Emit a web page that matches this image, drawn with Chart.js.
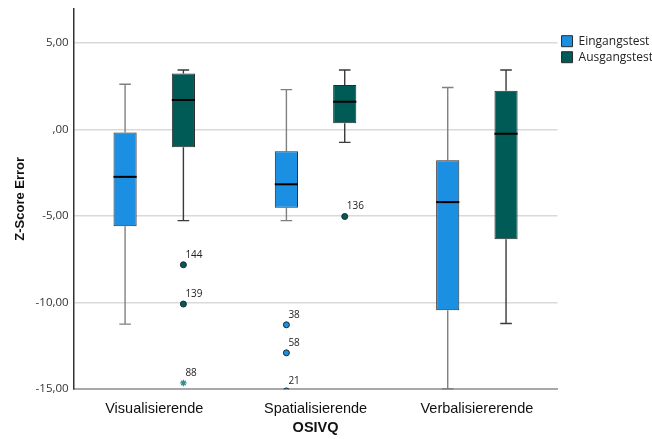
<!DOCTYPE html>
<html>
<head>
<meta charset="utf-8">
<script src="https://cdn.jsdelivr.net/npm/chart.js@4/dist/chart.umd.min.js"></script>
<style>
  html, body { margin: 0; padding: 0; background: #fff; }
  #wrap { width: 652px; height: 439px; }
</style>
</head>
<body>
<div id="wrap"><canvas id="myChart"></canvas></div>
<script>
const categories = ['Visualisierende', 'Spatialisierende', 'Verbalisiererende'];
const seriesNames = ['Eingangstest', 'Ausgangstest'];
const yTicks = [-15, -10, -5, 0, 5];

// box plot summary per category (min, q1, median, q3, max)
const einMin    = [-11.24, -5.26, -14.97];
const einQ1     = [-5.58, -4.52, -10.44];
const einMedian = [-2.73, -3.16, -4.19];
const einQ3     = [-0.17, -1.25, -1.77];
const einMax    = [2.62, 2.31, 2.43];

const ausMin    = [-5.26, -0.74, -11.2];
const ausQ1     = [-1.02, 0.36, -6.34];
const ausMedian = [1.71, 1.61, -0.24];
const ausQ3     = [3.24, 2.57, 2.24];
const ausMax    = [3.44, 3.44, 3.44];

// outliers
const outCategory = [0, 0, 0, 1, 1, 1, 1];
const outSeries   = [1, 1, 1, 0, 0, 0, 1];
const outValues   = [-7.81, -10.08, -14.64, -11.28, -12.9, -15.1, -5.02];
const outLabels   = ['144', '139', '88', '38', '58', '21', '136'];
const outExtreme  = [false, false, true, false, false, false, false];

const colors = ['#1b8fe2', '#005b57'];
const stats = [
    {min: einMin, med: einMedian, max: einMax, q1: einQ1, q3: einQ3, whisker: '#808080'},
    {min: ausMin, med: ausMedian, max: ausMax, q1: ausQ1, q3: ausQ3, whisker: '#3a3a3a'},
];

const boxExtras = {
    id: 'boxExtras',
    beforeDatasetsDraw(chart) {
        const ctx = chart.ctx;
        const y = chart.scales.y;
        ctx.save();
        stats.forEach((s, d) => {
            chart.getDatasetMeta(d).data.forEach((el, i) => {
                const cap = el.width * 0.5;
                ctx.strokeStyle = s.whisker;
                ctx.lineWidth = 1.4;
                ctx.beginPath();
                ctx.moveTo(el.x, y.getPixelForValue(s.q3[i]));
                ctx.lineTo(el.x, y.getPixelForValue(s.max[i]));
                ctx.moveTo(el.x, y.getPixelForValue(s.q1[i]));
                ctx.lineTo(el.x, y.getPixelForValue(s.min[i]));
                ctx.moveTo(el.x - cap / 2, y.getPixelForValue(s.max[i]));
                ctx.lineTo(el.x + cap / 2, y.getPixelForValue(s.max[i]));
                ctx.moveTo(el.x - cap / 2, y.getPixelForValue(s.min[i]));
                ctx.lineTo(el.x + cap / 2, y.getPixelForValue(s.min[i]));
                ctx.stroke();
            });
        });
        ctx.restore();
    },
    afterDatasetsDraw(chart) {
        const ctx = chart.ctx;
        const y = chart.scales.y;
        const area = chart.chartArea;
        ctx.save();
        // medians
        stats.forEach((s, d) => {
            chart.getDatasetMeta(d).data.forEach((el, i) => {
                const py = y.getPixelForValue(s.med[i]);
                ctx.strokeStyle = '#000';
                ctx.lineWidth = 2;
                ctx.beginPath();
                ctx.moveTo(el.x - el.width / 2, py);
                ctx.lineTo(el.x + el.width / 2, py);
                ctx.stroke();
            });
        });
        // outliers
        outValues.forEach((v, k) => {
            const el = chart.getDatasetMeta(outSeries[k]).data[outCategory[k]];
            const py = y.getPixelForValue(v);
            ctx.save();
            ctx.beginPath();
            ctx.rect(area.left, area.top, area.right - area.left, area.bottom - area.top);
            ctx.clip();
            if (outExtreme[k]) {
                ctx.strokeStyle = '#2f8f88';
                ctx.lineWidth = 1.2;
                Chart.helpers.drawPoint(ctx, {pointStyle: 'star', radius: 3.2, rotation: 0, borderWidth: 1.2}, el.x, py);
            } else {
                ctx.fillStyle = colors[outSeries[k]];
                ctx.strokeStyle = '#1d2b2b';
                ctx.lineWidth = 1;
                ctx.beginPath();
                ctx.arc(el.x, py, 3, 0, Math.PI * 2);
                ctx.fill();
                ctx.stroke();
            }
            ctx.restore();
            ctx.fillStyle = '#222';
            ctx.font = '10px "Open Sans"';
            ctx.textAlign = 'left';
            ctx.textBaseline = 'alphabetic';
            ctx.fillText(outLabels[k], el.x + 2, py - 7);
        });
        ctx.restore();
    }
};

const ctx = document.getElementById('myChart');
const data = {
    labels: categories,
    datasets: seriesNames.map((name, d) => ({
        label: name,
        data: categories.map((c, i) => [stats[d].q1[i], stats[d].q3[i]]),
        backgroundColor: colors[d],
        borderColor: '#2b2b2b',
        borderWidth: 1,
        borderSkipped: false,
        categoryPercentage: 0.723,
        barPercentage: 0.397,
    }))
};
const config = {
    type: 'bar',
    data: data,
    options: {
        responsive: true,
        maintainAspectRatio: false,
        animation: false,
        layout: {
            padding: {top: 0, left: 5, right: -11, bottom: 0}
        },
        scales: {
            x: {
                grid: {display: false, drawTicks: false},
                border: {color: '#a8a8a8', width: 2},
                ticks: {
                    color: '#111',
                    font: {family: '"Liberation Sans", Arial', size: 14.5},
                    padding: 11
                },
                title: {
                    display: true,
                    text: 'OSIVQ',
                    color: '#111',
                    font: {family: '"Liberation Sans", Arial', size: 14.5, weight: 'bold'},
                    padding: {top: -9, bottom: 2}
                }
            },
            y: {
                min: -15,
                max: 7,
                afterBuildTicks: axis => {
                    axis.ticks = yTicks.map(v => ({value: v}));
                },
                grid: {color: '#d9d9d9', lineWidth: 1.5, drawTicks: false},
                border: {color: '#333', width: 1.5},
                ticks: {
                    color: '#333',
                    font: {family: '"Open Sans"', size: 11.5, lineHeight: 0.6},
                    padding: 5,
                    callback: v => v === 0 ? ',00' : v.toFixed(2).replace('.', ',')
                },
                title: {
                    display: true,
                    text: 'Z-Score Error',
                    color: '#111',
                    font: {family: '"Liberation Sans", Arial', size: 13, weight: 'bold'},
                    padding: {top: 8, bottom: 2}
                }
            }
        },
        plugins: {
            legend: {
                position: 'right',
                align: 'start',
                title: {
                    display: true,
                    text: '',
                    font: {size: 1},
                    padding: {top: 30, bottom: 0}
                },
                labels: {
                    boxWidth: 11,
                    boxHeight: 11,
                    padding: 4,
                    color: '#222',
                    font: {family: '"Open Sans"', size: 12}
                }
            },
            tooltip: {enabled: false}
        }
    },
    plugins: [boxExtras]
};

new Chart(ctx, config);
</script>
</body>
</html>
